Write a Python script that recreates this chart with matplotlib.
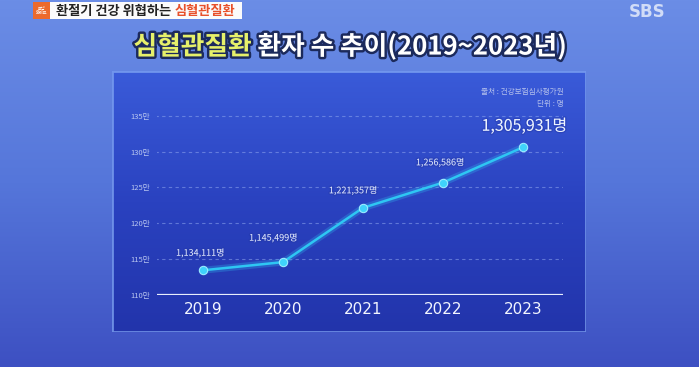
import numpy as np
import matplotlib
matplotlib.use("Agg")
import matplotlib.pyplot as plt
import matplotlib.patheffects as pe
from matplotlib.patches import Rectangle
from matplotlib.colors import LinearSegmentedColormap

plt.rcParams['font.family'] = ['Noto Sans CJK KR', 'DejaVu Sans']

# ---- data ----
years = ["2019", "2020", "2021", "2022", "2023"]
patients = [1134111, 1145499, 1221357, 1256586, 1305931]
ytick_values = [110, 115, 120, 125, 130, 135]
ytick_labels = ["110만", "115만", "120만", "125만", "130만", "135만"]
title_part1 = "심혈관질환"
title_part2 = " 환자 수 추이(2019~2023년)"
banner_part1 = "환절기 건강 위협하는 "
banner_part2 = "심혈관질환"
source_text = "출처 : 건강보험심사평가원"
unit_text = "단위 : 명"

W, H = 699, 367
fig = plt.figure(figsize=(W / 100, H / 100), dpi=100)

def fx(px):
    return px / W

def fy(py):
    return 1 - py / H

# background gradient
bg = fig.add_axes([0, 0, 1, 1], zorder=0)
bg.set_axis_off()
grad = np.linspace(0, 1, 256).reshape(-1, 1)
cmap_bg = LinearSegmentedColormap.from_list("bg", ["#6b8de6", "#5576da", "#3d50c2"])
bg.imshow(grad, aspect="auto", cmap=cmap_bg, extent=[0, 1, 0, 1], origin="upper")
bg.set_xlim(0, 1)
bg.set_ylim(0, 1)

# panel
pl, pr, pt, pb = 112, 586, 71, 332
panel = fig.add_axes([fx(pl), fy(pb), fx(pr - pl), (pb - pt) / H], zorder=1)
panel.set_axis_off()
cmap_panel = LinearSegmentedColormap.from_list("pn", ["#3a5bd9", "#2a42c0", "#2234ab"])
panel.imshow(grad, aspect="auto", cmap=cmap_panel, extent=[0, 1, 0, 1], origin="upper")
panel.set_xlim(0, 1)
panel.set_ylim(0, 1)
panel.add_patch(Rectangle((0, 0), 1, 1, transform=panel.transAxes, fill=False,
                          edgecolor="#7fa4f2", linewidth=2.0, alpha=0.8))

# main axes
ax_left, ax_right = 157, 563
ax_bottom, ax_top = 294.7, 101.4
ax = fig.add_axes([fx(ax_left), fy(ax_bottom), fx(ax_right - ax_left), (ax_bottom - ax_top) / H], zorder=2)
ax.set_facecolor("none")
x = np.arange(len(years))
vals = np.array(patients) / 10000.0
ax.set_xlim(-0.575, 4.5)
ax.set_ylim(110, 137)
for s in ax.spines.values():
    s.set_visible(False)

for v in ytick_values[1:]:
    ax.axhline(v, color="#8fa6ee", linewidth=0.8, linestyle=(0, (3, 3)), alpha=0.55, xmin=-0.005, xmax=1.0)
ax.axhline(110, color="#e8eefc", linewidth=1.6)

ax.set_yticks(ytick_values)
ax.set_yticklabels(ytick_labels, fontsize=5.5, color="#b9c6f0")
ax.tick_params(axis="y", length=0, pad=5)
ax.set_xticks(x)
ax.set_xticklabels(years, fontsize=11, color="#f2f5ff", family=["DejaVu Sans"])
ax.tick_params(axis="x", length=0, pad=5)

# glowing line
ax.plot(x, vals, color="#33c8f5", linewidth=5, alpha=0.25, solid_capstyle="round")
ax.plot(x, vals, color="#2ec6f3", linewidth=1.8, marker="o", markersize=6,
        markerfacecolor="#3fd2fb", markeredgecolor="#9beaff", markeredgewidth=0.8)

offsets = [(-2, 9), (-7, 14), (-7, 9), (-2, 11), (1, 9)]
for i, (v, p) in enumerate(zip(vals, patients)):
    big = i == len(patients) - 1
    ax.annotate(f"{p:,}명", (x[i], v), xytext=offsets[i], textcoords="offset points",
                ha="center", va="bottom", fontsize=11.5 if big else 6.5,
                color="#eef4ff" if big else "#dfe6fb",
                path_effects=[pe.withStroke(linewidth=2, foreground="#2438a8", alpha=0.4)])

# source / unit
fig.text(fx(564), fy(92), source_text, fontsize=5.5, color="#b4c0ec", ha="right", va="center", zorder=3)
fig.text(fx(564), fy(104), unit_text, fontsize=5.5, color="#b4c0ec", ha="right", va="center", zorder=3)

# title (two colors)
fig.canvas.draw()
renderer = fig.canvas.get_renderer()
title_kw = dict(fontsize=18.5, fontweight="bold", va="center", zorder=4,
                path_effects=[pe.withStroke(linewidth=3.5, foreground="#1c2a5c")])
t1 = fig.text(0, fy(47), title_part1, color="#e6f06a", **title_kw)
t2 = fig.text(0, fy(47), title_part2, color="#ffffff", **title_kw)
w1 = t1.get_window_extent(renderer).width
w2 = t2.get_window_extent(renderer).width
start = 350 - (w1 + w2) / 2
t1.set_x(fx(start))
t2.set_x(fx(start + w1))

# banner
fig.patches.append(Rectangle((fx(33), fy(19)), fx(17), 17 / H, transform=fig.transFigure,
                             facecolor="#ec6a2c", edgecolor="none", zorder=3))
fig.patches.append(Rectangle((fx(50), fy(19)), fx(192), 17 / H, transform=fig.transFigure,
                             facecolor="#fbfbfb", edgecolor="none", zorder=3))
fig.text(fx(41.5), fy(10.5), "모닝\n와이드", fontsize=3, color="white", ha="center", va="center",
         fontweight="bold", zorder=4, linespacing=0.9)
b1 = fig.text(fx(56), fy(10.5), banner_part1, fontsize=9.5, fontweight="bold", color="#222222",
              va="center", zorder=4)
wb = b1.get_window_extent(renderer).width
fig.text(fx(56 + wb), fy(10.5), banner_part2, fontsize=9.5, fontweight="bold", color="#e8502a",
         va="center", zorder=4)

# logo
fig.text(fx(647), fy(12), "SBS", fontsize=12, fontweight="bold", color="#e4ebfb", alpha=0.85,
         ha="center", va="center", zorder=4, family=["DejaVu Sans"])

fig.savefig("out.png", dpi=100)
